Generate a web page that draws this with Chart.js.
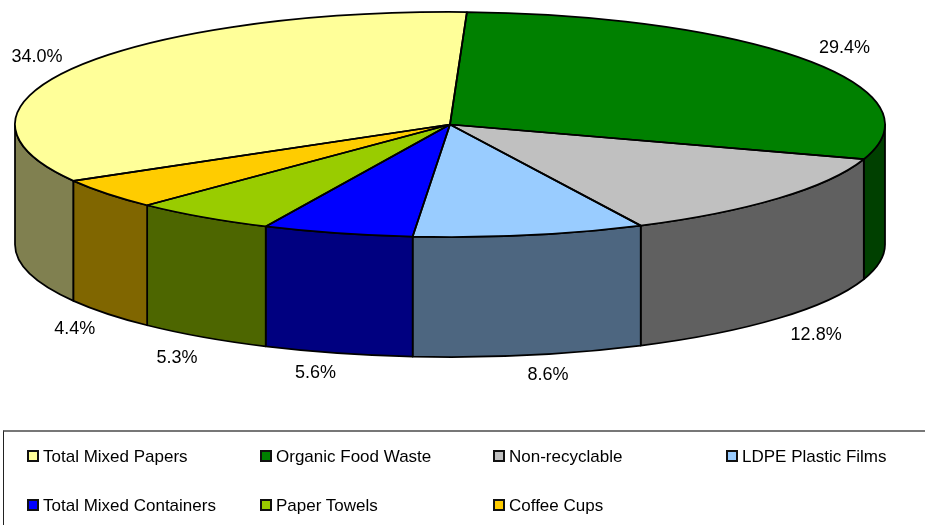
<!DOCTYPE html>
<html>
<head>
<meta charset="utf-8">
<title>Waste composition</title>
<script src="https://cdn.jsdelivr.net/npm/chart.js@4"></script>
<style>
  html, body { margin: 0; padding: 0; background: #fff; overflow: hidden; }
  #wrap { position: relative; width: 925px; height: 525px; overflow: hidden; }
  #pie { position: absolute; left: 0; top: 0; }
  #legend {
    position: absolute; left: 3px; top: 430px; width: 930px; height: 110px;
    box-sizing: border-box; border-left: 1px solid #222; border-top: 2px solid #777;
    font: 17px "Liberation Sans", Arial, sans-serif; color: #000;
  }
  .item { position: absolute; white-space: nowrap; line-height: 18px; }
  .item i {
    position: absolute; left: 0; top: 2px; width: 8px; height: 8px;
    border: 2px solid #111;
  }
  .item span { position: absolute; left: 16px; top: 0; }
</style>
</head>
<body>
<div id="wrap">
  <canvas id="pie" width="925" height="525"></canvas>
  <div id="legend"></div>
</div>
<script>
const categories = [
  "Total Mixed Papers",
  "Organic Food Waste",
  "Non-recyclable",
  "LDPE Plastic Films",
  "Total Mixed Containers",
  "Paper Towels",
  "Coffee Cups"
];
const shares = [34.0, 29.4, 12.8, 8.6, 5.6, 5.3, 4.4];
const topColors = ["#FFFF99", "#008000", "#C0C0C0", "#99CCFF", "#0000FF", "#99CC00", "#FFCC00"];
const sideColors = ["#808050", "#004000", "#606060", "#4D6680", "#000080", "#4D6600", "#806600"];

const RX = 435;
const SQUASH = 112.5 / 435;
const DEPTH = 120;
const LABEL_RX = 481;
const LABEL_RY = 136;
// small hand nudges so the percent labels land where the original put them
const labelNudgeX = [-1, 0, 3, 10, -10, 0, 4];
const labelNudgeY = [0, -1, 1, -3, -3, 2, 1];

// the arcs stay normal pie arcs, this plugin just tilts them and adds the side wall
const tiltPlugin = {
  id: "tilt",
  beforeDatasetsDraw(chart) {
    const ctx = chart.ctx;
    const arcs = chart.getDatasetMeta(0).data;
    const cx = arcs[0].x, cy = arcs[0].y;
    const ry = RX * SQUASH;
    const front = [];

    arcs.forEach((arc, i) => {
      // clip every slice to the front half, that is the only visible wall
      for (let turn = -1; turn <= 1; turn++) {
        const lo = turn * 2 * Math.PI;
        const from = Math.max(arc.startAngle, lo);
        const to = Math.min(arc.endAngle, lo + Math.PI);
        if (to > from) front.push({ from, to, i });
      }
    });

    ctx.save();
    ctx.lineWidth = 1.75;
    ctx.strokeStyle = "#000";
    ctx.lineJoin = "round";
    front.forEach(w => {
      ctx.beginPath();
      ctx.ellipse(cx, cy, RX, ry, 0, w.from, w.to);
      ctx.ellipse(cx, cy + DEPTH, RX, ry, 0, w.to, w.from, true);
      ctx.closePath();
      ctx.fillStyle = sideColors[w.i];
      ctx.fill();
      ctx.stroke();
    });
    ctx.restore();

    ctx.save();
    ctx.translate(cx, cy);
    ctx.scale(1, SQUASH);
    ctx.translate(-cx, -cy);
  },
  afterDatasetsDraw(chart) {
    const ctx = chart.ctx;
    ctx.restore();
    const arcs = chart.getDatasetMeta(0).data;
    const cx = arcs[0].x, cy = arcs[0].y;
    const ry = RX * SQUASH;

    ctx.save();
    ctx.lineWidth = 1.75;
    ctx.strokeStyle = "#000";
    ctx.lineJoin = "round";
    arcs.forEach(arc => {
      ctx.beginPath();
      ctx.moveTo(cx, cy);
      ctx.ellipse(cx, cy, RX, ry, 0, arc.startAngle, arc.endAngle);
      ctx.closePath();
      ctx.stroke();
    });

    // percent labels sit on a wider ellipse round the mid angle of the slice
    ctx.fillStyle = "#000";
    ctx.font = '18px "Liberation Sans", Arial, sans-serif';
    ctx.textAlign = "center";
    ctx.textBaseline = "middle";
    arcs.forEach((arc, i) => {
      const mid = (arc.startAngle + arc.endAngle) / 2;
      const x = cx + Math.cos(mid) * LABEL_RX + labelNudgeX[i];
      let y = cy + Math.sin(mid) * LABEL_RY + labelNudgeY[i];
      y += Math.sin(mid) > 0 ? DEPTH : 2.5;
      ctx.fillText(shares[i].toFixed(1) + "%", x, y);
    });
    ctx.restore();
  }
};

new Chart(document.getElementById("pie"), {
  type: "pie",
  data: {
    labels: categories,
    datasets: [{
      data: shares,
      backgroundColor: topColors,
      borderWidth: 0,
      clip: false
    }]
  },
  options: {
    responsive: false,
    animation: false,
    rotation: -120.05,
    radius: RX,
    layout: { padding: { right: 25, bottom: 276 } },
    plugins: {
      legend: { display: false },
      tooltip: { enabled: false }
    }
  },
  plugins: [tiltPlugin]
});

const legend = document.getElementById("legend");
categories.forEach((name, i) => {
  const item = document.createElement("div");
  item.className = "item";
  item.style.left = 23 + (i % 4) * 233 + "px";
  item.style.top = (i < 4 ? 16 : 65) + "px";
  item.innerHTML = `<i style="background:${topColors[i]}"></i><span>${name}</span>`;
  legend.appendChild(item);
});
</script>
</body>
</html>
